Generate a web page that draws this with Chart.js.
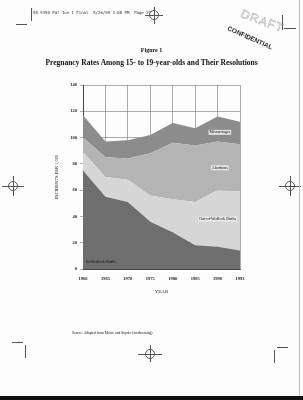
<!DOCTYPE html>
<html><head><meta charset="utf-8">
<script src="https://cdn.jsdelivr.net/npm/chart.js@4/dist/chart.umd.min.js"></script>
<style>
html,body{margin:0;padding:0;background:#fdfdfd;width:303px;height:400px;overflow:hidden;font-family:"Liberation Serif",serif;}
#wrap{position:absolute;left:0;top:0;width:303px;height:400px;}
canvas{position:absolute;left:0;top:0;}
.t{position:absolute;white-space:nowrap;color:#111;}
.h{position:absolute;background:#555;}
.ch{position:absolute;width:8px;height:8px;border:1px solid #555;border-radius:50%;}
</style></head>
<body>
<div id="wrap">
<canvas id="c" width="303" height="400"></canvas>
<div class="t" style="left:33px;top:10px;font-family:'DejaVu Sans Mono',monospace;font-size:4px;color:#333;">98 9150 Pat Jun 1 Final&nbsp; 5/26/95 3:08 PM&nbsp; Page 27</div>
<div class="h" style="left:31px;top:8px;width:1px;height:13px;"></div>
<div class="h" style="left:16px;top:24px;width:11px;height:1px;"></div>
<div class="h" style="left:145px;top:15px;width:18px;height:1px;"></div>
<div class="h" style="left:154px;top:7px;width:1px;height:17px;"></div>
<div class="ch" style="left:149px;top:10px;"></div>
<div class="h" style="left:282px;top:15px;width:1px;height:15px;"></div>
<div class="h" style="left:284px;top:28px;width:12px;height:1px;"></div>
<div class="h" style="left:2px;top:186px;width:22px;height:1px;"></div>
<div class="h" style="left:13px;top:176px;width:1px;height:20px;"></div>
<div class="ch" style="left:8px;top:181px;"></div>
<div class="h" style="left:279px;top:186px;width:22px;height:1px;"></div>
<div class="h" style="left:290px;top:176px;width:1px;height:20px;"></div>
<div class="ch" style="left:285px;top:181px;"></div>
<div class="h" style="left:12px;top:342px;width:11px;height:1px;"></div>
<div class="h" style="left:25px;top:345px;width:1px;height:13px;"></div>
<div class="h" style="left:138px;top:354px;width:24px;height:1px;"></div>
<div class="h" style="left:150px;top:345px;width:1px;height:17px;"></div>
<div class="ch" style="left:145px;top:349px;"></div>
<div class="h" style="left:274px;top:350px;width:1px;height:13px;"></div>
<div class="h" style="left:277px;top:347px;width:11px;height:1px;"></div>
<div class="h" style="left:299px;top:0px;width:1px;height:396px;background:#bbb;"></div>
<div class="h" style="left:0px;top:396px;width:303px;height:4px;background:#111;"></div>
<div class="t" style="left:240px;top:14px;font-family:'Liberation Sans',sans-serif;font-size:12px;color:transparent;-webkit-text-stroke:0.4px #999;transform:rotate(20deg);letter-spacing:1px;">DRAFT</div>
<div class="t" style="left:226px;top:34px;font-family:'Liberation Sans',sans-serif;font-weight:bold;font-size:6.5px;color:#222;transform:rotate(24deg);">CONFIDENTIAL</div>
<div class="t" style="left:0;width:303px;top:47px;text-align:center;font-size:6px;font-weight:bold;">Figure 1</div>
<div class="t" style="left:0;width:303px;top:58px;text-align:center;font-size:7.5px;font-weight:bold;">Pregnancy Rates Among 15- to 19-year-olds and Their Resolutions</div>
<div class="t" style="left:72px;top:331px;font-size:3.6px;">Source: Adapted from Moore and Snyder (forthcoming)</div>
</div>
<script>
const years = ["1960","1965","1970","1975","1980","1985","1990","1993"];
const maritalBirths = [75, 55, 51, 36, 28, 18, 17, 14];
const outOfWedlockBirths = [14, 15, 17, 20, 25, 33, 43, 45];
const abortions = [11, 15, 16, 32, 43, 43, 37, 36];
const miscarriages = [17, 12, 14, 14, 15, 13, 19, 17];
const seriesNames = ["In-Wedlock Births","Out-of-Wedlock Births","Abortions","Miscarriages"];
const yTicks = [0,20,40,60,80,100,120,140];

const ser = [maritalBirths, outOfWedlockBirths, abortions, miscarriages];
const colors = ["#6e6e6e","#d6d6d6","#b4b4b4","#8c8c8c"];
// label anchors: [category index (fractional), value]
const labelAnchors = [[0.8, 5], [6.0, 38], [6.1, 77], [6.1, 104]];

const labelPlugin = {
  id:'areaLabels',
  afterDatasetsDraw(chart){
    const ctx = chart.ctx, xs = chart.scales.x, ys = chart.scales.y;
    ctx.save();
    ctx.font = '4px "Liberation Serif"';
    ctx.textAlign='center'; ctx.textBaseline='middle';
    seriesNames.forEach((n,i)=>{
      const a = labelAnchors[i];
      const x0 = xs.getPixelForValue(Math.floor(a[0])), x1 = xs.getPixelForValue(Math.ceil(a[0]));
      const x = x0 + (x1-x0)*(a[0]-Math.floor(a[0]));
      const y = ys.getPixelForValue(a[1]);
      const w = ctx.measureText(n).width;
      ctx.fillStyle = i===0 ? 'rgba(110,110,110,0.9)' : 'rgba(235,235,235,0.9)';
      ctx.fillRect(x-w/2-1, y-2.5, w+2, 5);
      ctx.fillStyle = '#111';
      ctx.fillText(n, x, y);
    });
    ctx.restore();
  }
};

new Chart(document.getElementById('c'), {
  type:'line',
  data:{
    labels: years,
    datasets: ser.map((d,i)=>({
      label: seriesNames[i], data: d,
      backgroundColor: colors[i], borderColor: colors[i], borderWidth:0,
      fill: i===0 ? 'origin' : '-1', pointRadius:0, tension:0
    }))
  },
  options:{
    responsive:false, animation:false,
    layout:{padding:{left:50,right:63,top:85,bottom:101}},
    plugins:{legend:{display:false},tooltip:{enabled:false}},
    scales:{
      x:{
        offset:false,
        grid:{color:'#777',lineWidth:0.6,borderDash:[1,2],drawTicks:false},
        border:{color:'#444',width:1},
        ticks:{font:{family:'Liberation Serif',size:4.5,weight:'bold'},color:'#222',padding:7,maxRotation:0,autoSkip:false},
        title:{display:true,text:'YEAR',font:{family:'Liberation Serif',size:5},color:'#222',padding:{top:6}},
        afterFit(s){s.height=30;}
      },
      y:{
        stacked:true, min:0, max:140,
        afterBuildTicks(s){s.ticks = yTicks.map(v=>({value:v}));},
        grid:{color:'#777',lineWidth:0.6,borderDash:[1,2],drawTicks:true,tickLength:3},
        border:{color:'#444',width:1},
        ticks:{font:{family:'Liberation Serif',size:4.5,weight:'bold'},color:'#222',padding:3},
        title:{display:true,text:'INCIDENTS PER 1,000',font:{family:'Liberation Serif',size:4.5},color:'#222',padding:{bottom:2}},
        afterFit(s){s.width=33;}
      }
    }
  },
  plugins:[labelPlugin]
});
</script>
</body></html>
